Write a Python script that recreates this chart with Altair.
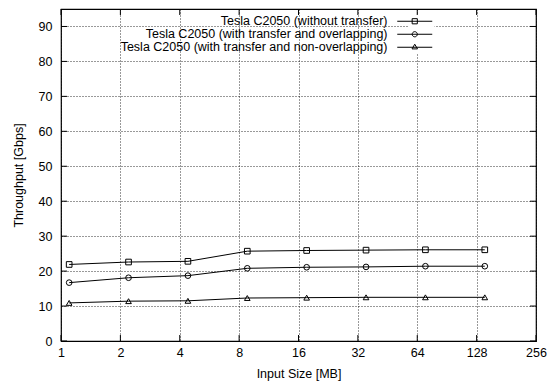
import altair as alt
import pandas as pd

# ---- data ----
sizes = [1.1, 2.2, 4.4, 8.8, 17.6, 35.2, 70.4, 140.8]
series_names = [
    "Tesla C2050 (without transfer)",
    "Tesla C2050 (with transfer and overlapping)",
    "Tesla C2050 (with transfer and non-overlapping)",
]
without_transfer = [21.9, 22.6, 22.8, 25.7, 25.9, 26.0, 26.1, 26.1]
with_overlapping = [16.7, 18.1, 18.7, 20.8, 21.1, 21.2, 21.4, 21.4]
non_overlapping = [10.9, 11.4, 11.5, 12.3, 12.4, 12.5, 12.5, 12.5]
x_ticks = [1, 2, 4, 8, 16, 32, 64, 128, 256]
y_ticks = [0, 10, 20, 30, 40, 50, 60, 70, 80, 90]

rows = []
for name, vals in zip(series_names, [without_transfer, with_overlapping, non_overlapping]):
    for s, v in zip(sizes, vals):
        rows.append({"size": s, "tp": v, "series": name})
df = pd.DataFrame(rows)
xt = pd.DataFrame({"v": x_ticks})
yt = pd.DataFrame({"v": y_ticks})

W, H = 475, 332
FONT = "Liberation Sans"
FS = 12.5
TICK = 6

x_scale = alt.Scale(type="log", base=2, domain=[1, 256], nice=False)
y_scale = alt.Scale(domain=[0, 95], nice=False)

x_axis = alt.Axis(values=x_ticks, title="Input Size [MB]", format="d", grid=True,
                  gridDash=[1, 2], gridColor="#000", gridOpacity=0.8, tickSize=0,
                  domain=False, labelPadding=5, titlePadding=9, labelFlush=False,
                  labelOverlap=False)
y_axis = alt.Axis(values=y_ticks, title="Throughput [Gbps]", grid=True,
                  gridDash=[1, 2], gridColor="#000", gridOpacity=0.8, tickSize=0,
                  domain=False, labelPadding=9, titlePadding=13, labelOverlap=False)

base = alt.Chart(df)
lines = base.mark_line(color="black", strokeWidth=1).encode(
    x=alt.X("size:Q", scale=x_scale, axis=x_axis),
    y=alt.Y("tp:Q", scale=y_scale, axis=y_axis),
    detail="series:N",
)
points = base.mark_point(filled=False, color="black", size=32, strokeWidth=1, opacity=1).encode(
    x=alt.X("size:Q", scale=x_scale, axis=x_axis),
    y=alt.Y("tp:Q", scale=y_scale, axis=y_axis),
    shape=alt.Shape("series:N",
                    scale=alt.Scale(domain=series_names, range=["square", "circle", "triangle-up"]),
                    legend=None),
)

# symbol unit = sqrt(121)/2 = 5.5 px; line half-length 17.5 px
legend_paths = [
    "M-3.18,0H3.18M-0.47,-0.47H0.47V0.47H-0.47Z",
    "M-3.18,0H3.18M-0.47,0A0.47,0.47 0 1,0 0.47,0A0.47,0.47 0 1,0 -0.47,0Z",
    "M-3.18,0H3.18M-0.5,0.3L0,-0.55L0.5,0.3Z",
]
legend_layer = base.mark_point(filled=False, color="black", opacity=0).encode(
    x=alt.X("size:Q", scale=x_scale, axis=x_axis),
    y=alt.Y("tp:Q", scale=y_scale, axis=y_axis),
    shape=alt.Shape("series:N",
                    scale=alt.Scale(domain=series_names, range=legend_paths),
                    legend=alt.Legend(title=None, orient="none", legendX=347.5, legendY=6,
                                      direction="vertical", labelAlign="right",
                                      labelOffset={"expr": "-33.5"}, labelFont=FONT,
                                      labelFontSize=FS,
                                      labelColor="black", labelLimit=400,
                                      symbolSize=121, symbolStrokeWidth=1,
                                      symbolStrokeColor="black",
                                      symbolFillColor="transparent", symbolOpacity=1,
                                      rowPadding=0, padding=0, fillColor="white")),
)

xt_bottom = alt.Chart(xt).mark_rule(color="black").encode(
    x=alt.X("v:Q", scale=x_scale, axis=x_axis), y=alt.value(H), y2=alt.value(H - TICK))
xt_top = alt.Chart(xt).mark_rule(color="black").encode(
    x=alt.X("v:Q", scale=x_scale, axis=x_axis), y=alt.value(0), y2=alt.value(TICK))
yt_left = alt.Chart(yt).mark_rule(color="black").encode(
    y=alt.Y("v:Q", scale=y_scale, axis=y_axis), x=alt.value(0), x2=alt.value(TICK))
yt_right = alt.Chart(yt).mark_rule(color="black").encode(
    y=alt.Y("v:Q", scale=y_scale, axis=y_axis), x=alt.value(W), x2=alt.value(W - TICK))

chart = alt.layer(lines, points, legend_layer, xt_bottom, xt_top, yt_left, yt_right).resolve_scale(
    shape="independent"
).properties(
    width=W, height=H, autosize="none", background="white",
    padding={"left": 61, "top": 9, "right": 14, "bottom": 44},
).configure_view(
    stroke="black", strokeWidth=1.2
).configure_axis(
    labelFont=FONT, labelFontSize=FS, labelColor="black",
    titleFont=FONT, titleFontSize=FS, titleColor="black", titleFontWeight="normal",
)

chart.save("out.html", embed_options={"renderer": "svg", "actions": False})
